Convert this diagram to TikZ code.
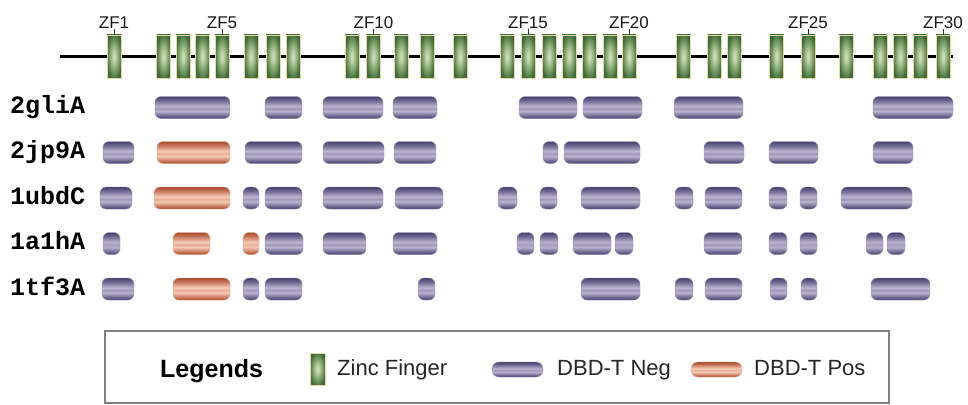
\documentclass[tikz,border=0pt]{standalone}
\usepackage{fontspec}
\setmainfont{Liberation Sans}
\newfontfamily\monobold{Liberation Mono}
\definecolor{zfd}{HTML}{3E6B38}
\definecolor{zfm}{HTML}{7FA26C}
\definecolor{zfl}{HTML}{D3E2BC}
\definecolor{zfo}{HTML}{E6D9A6}
\definecolor{negd}{HTML}{45416C}
\definecolor{negm}{HTML}{7A739A}
\definecolor{negl}{HTML}{BDB5D0}
\definecolor{negm2}{HTML}{9D96B7}
\definecolor{negline}{HTML}{8F8DB8}
\definecolor{posd}{HTML}{A8482A}
\definecolor{posm}{HTML}{D0846A}
\definecolor{posl}{HTML}{F6CDB8}
\definecolor{posm2}{HTML}{E5AA92}
\definecolor{posline}{HTML}{D89C86}
\definecolor{legbox}{HTML}{7F7F7F}
\pgfdeclareverticalshading{negsh}{100bp}{color(0bp)=(negd); color(25bp)=(negd); color(33bp)=(negm); color(42bp)=(negl); color(47bp)=(negm2); color(53bp)=(negl); color(64bp)=(negm); color(75bp)=(negd); color(100bp)=(negd)}
\pgfdeclareverticalshading{possh}{100bp}{color(0bp)=(posd); color(25bp)=(posd); color(33bp)=(posm); color(42bp)=(posl); color(47bp)=(posm2); color(53bp)=(posl); color(64bp)=(posm); color(75bp)=(posd); color(100bp)=(posd)}
\pgfdeclareradialshading{zfsh}{\pgfpoint{0bp}{0bp}}{color(0bp)=(zfl); color(6bp)=(zfl!70!zfm); color(16bp)=(zfm); color(27bp)=(zfd); color(50bp)=(zfd)}
\tikzset{
  zf/.style={rectangle, minimum width=14pt, minimum height=43pt, inner sep=0pt,
    shading=zfsh, shade, draw=zfo, line width=0.5pt},
  zflab/.style={anchor=south, inner sep=0pt, font=\fontsize{17}{17}\selectfont, text=black!90},
  tick/.style={line width=0.9pt, black!80},
  backbone/.style={line width=3pt, black},
  rowlab/.style={anchor=base west, inner sep=0pt, font=\monobold\bfseries\fontsize{25}{25}\selectfont},
  negbar/.style={shading=negsh, rounded corners=6pt, draw=negline, line width=0.4pt},
  posbar/.style={shading=possh, rounded corners=6pt, draw=posline, line width=0.4pt},
  legtext/.style={anchor=base west, inner sep=0pt, font=\fontsize{22}{22}\selectfont, text=black!85},
  legtitle/.style={anchor=base west, inner sep=0pt, font=\bfseries\fontsize{25}{25}\selectfont},
  legframe/.style={draw=legbox, line width=1.4pt, fill=white}
}
\begin{document}
\begin{tikzpicture}[x=1pt,y=-1pt]
\useasboundingbox[fill=white] (0,0) rectangle (968,404);
% backbone
\draw[backbone] (60,57) -- (953,57);
% zinc fingers
\foreach \x [count=\i] in {114,163.5,183,202.5,222,251,273,293,352,373.5,401,427,460,507,528,549,569,589.5,610,629,683.5,714.5,734.5,776.5,808,846,880,900,920,943}
  \node[zf] (zf\i) at (\x,56.5) {};
\foreach \i in {1,5,10,15,20,25,30}{
  \path (zf\i.north) ++(0,-6) node[zflab] (zl\i) {ZF\i};
  \draw[tick] (zl\i) -- (zf\i);
}
% row labels
\node[rowlab] (r1) at (10,113.5) {2gliA};
\node[rowlab] (r2) at (10,158.5) {2jp9A};
\node[rowlab] (r3) at (10,204) {1ubdC};
\node[rowlab] (r4) at (10,249.5) {1a1hA};
\node[rowlab] (r5) at (10,295) {1tf3A};
% row 1
\foreach \a/\b in {155/230,265/302,323/383,393/437,519/577,583/642,674/743,873/953}
  \shade[negbar] (\a,96.5) rectangle (\b,118.5);
% row 2
\foreach \a/\b in {103/134,245/302,323/384,394/436,543/558,564/640,704/744,769/818,873/913}
  \shade[negbar] (\a,141.5) rectangle (\b,163.5);
\shade[posbar] (157,141.5) rectangle (230,163.5);
% row 3
\foreach \a/\b in {100/132,243/259,265/302,323/383,395/443,498/517,540/557,581/640,675/693,705/742,769/787,800/817,841/912}
  \shade[negbar] (\a,187) rectangle (\b,209);
\shade[posbar] (154,187) rectangle (230,209);
% row 4
\foreach \a/\b in {103/120,265/303,323/366,393/437,517/534,540/558,573/611,615/633,704/742,769/787,800/817,866/883,887/905}
  \shade[negbar] (\a,232.5) rectangle (\b,254.5);
\shade[posbar] (173,232.5) rectangle (210,254.5);
\shade[posbar] (243,232.5) rectangle (259,254.5);
% row 5
\foreach \a/\b in {102/134,243/259,265/302,418/435,581/640,675/693,705/742,770/787,801/817,871/930}
  \shade[negbar] (\a,278) rectangle (\b,300);
\shade[posbar] (173,278) rectangle (230,300);
% legend
\draw[legframe] (105,331) rectangle (889,403);
\node[legtitle] (lt) at (160,377) {Legends};
\node[zf, minimum width=15pt, minimum height=32pt] (lzf) at (317.5,369) {};
\node[legtext] (lzt) at (337,375) {Zinc Finger};
\shade[negbar, rounded corners=7pt] (492,362) rectangle (543,377);
\node[legtext] (lnt) at (557,375) {DBD-T Neg};
\shade[posbar, rounded corners=7pt] (691,362) rectangle (742,377);
\node[legtext] (lpt) at (754,375) {DBD-T Pos};
\end{tikzpicture}
\end{document}
